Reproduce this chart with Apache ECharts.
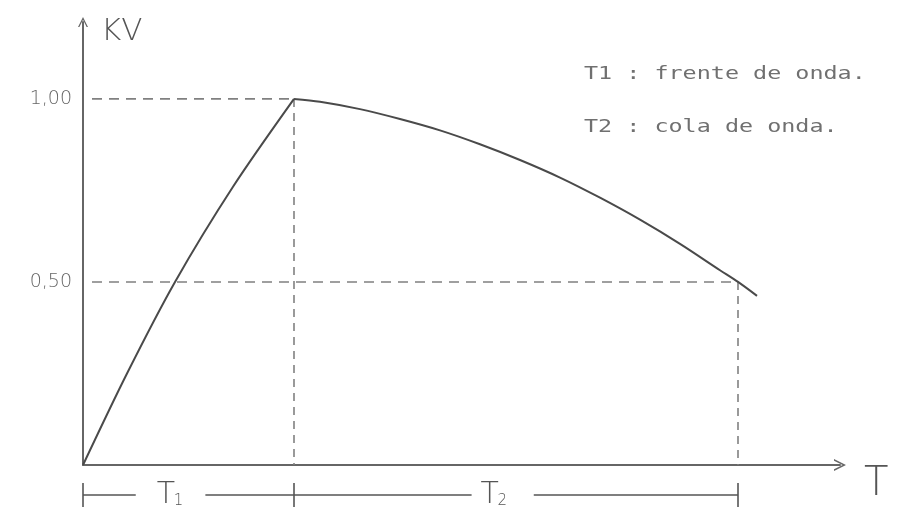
<!DOCTYPE html>
<html lang="es">
<head>
    <meta charset="UTF-8">
    <title>Onda de impulso</title>
    <script src="https://cdn.jsdelivr.net/npm/echarts@6/dist/echarts.min.js"></script>
</head>
<body style="margin:0;background:#fff;">
<div id="pic1" style="width:914px;height:513px;"></div>

<script>
    // frente de onda (subida) y cola de onda
    var riseT = [0, 0.44, 0.92, 1.50, 2.11];
    var riseV = [0, 0.25, 0.50, 0.76, 1.00];
    var tailT = [2.11, 2.37, 2.77, 3.17, 3.57, 3.97, 4.37, 4.77, 5.17, 5.57, 5.97, 6.37, 6.55, 6.74];
    var tailV = [1.00, 0.992, 0.972, 0.945, 0.914, 0.876, 0.833, 0.785, 0.730, 0.670, 0.604, 0.532, 0.50, 0.462];

    // marcas del eje y
    var yTicks = [0.5, 1.0];
    var yTickLabels = ['0,50', '1,00'];

    // fin de T1 y de T2
    var t1End = 2.11;
    var t2End = 6.55;
    var dashStart = 0.09;

    var legendLines = ['T1 : frente de onda.', 'T2 : cola de onda.'];

    function pairs(xs, ys) {
        return xs.map(function (x, i) { return [x, ys[i]]; });
    }

    var ink = '#4a4a4a';
    var dashColor = '#808080';
    var chevron = 'path://M0,10 L5,0 L10,10 L8.6,10 L5,2.8 L1.4,10 Z';

    var myCharts1 = echarts.init(document.getElementById('pic1'));

    var dashed = function (data, type) {
        return {
            type: 'line',
            data: data,
            symbol: 'none',
            silent: true,
            lineStyle: {color: dashColor, width: 1.6, type: type},
            z: 1
        };
    };

    var option1 = {
        backgroundColor: '#fff',
        animation: false,
        grid: {left: 83, right: 74, top: 22, bottom: 48},
        xAxis: {
            type: 'value',
            min: 0,
            max: 7.57,
            name: 'T',
            nameLocation: 'end',
            nameGap: 24,
            nameTextStyle: {
                fontFamily: 'DejaVu Sans',
                fontWeight: 200,
                fontSize: 40,
                color: '#555',
                align: 'left',
                verticalAlign: 'top'
            },
            axisLine: {
                show: true,
                symbol: ['none', chevron],
                symbolSize: [12, 12],
                lineStyle: {color: '#666', width: 2}
            },
            axisTick: {show: false},
            axisLabel: {show: false},
            splitLine: {show: false}
        },
        yAxis: {
            type: 'value',
            min: 0,
            max: 1.21,
            interval: 0.5,
            name: 'KV',
            nameLocation: 'end',
            nameGap: 6,
            nameTextStyle: {
                fontFamily: 'DejaVu Sans',
                fontWeight: 200,
                fontSize: 31,
                color: '#555',
                align: 'left',
                verticalAlign: 'top',
                padding: [0, 0, 0, 18]
            },
            axisLine: {
                show: true,
                symbol: ['none', chevron],
                symbolSize: [10, 12],
                lineStyle: {color: '#666', width: 2}
            },
            axisTick: {show: false},
            axisLabel: {
                margin: 11,
                fontFamily: 'DejaVu Sans',
                fontWeight: 200,
                fontSize: 19,
                color: '#666',
                formatter: function (v) {
                    for (var i = 0; i < yTicks.length; i++) {
                        if (Math.abs(v - yTicks[i]) < 1e-6) return yTickLabels[i];
                    }
                    return '';
                }
            },
            splitLine: {show: false}
        },
        series: [
            dashed([[dashStart, 1.0], [t1End, 1.0]], [10, 7]),
            dashed([[t1End, 1.0], [t1End, 0]], [8, 6]),
            dashed([[dashStart, 0.5], [t2End, 0.5]], [10, 7]),
            dashed([[t2End, 0.5], [t2End, 0]], [8, 6]),
            {
                type: 'line',
                data: pairs(riseT, riseV),
                smooth: 0.3,
                symbol: 'none',
                lineStyle: {color: ink, width: 2},
                z: 3
            },
            {
                type: 'line',
                data: pairs(tailT, tailV),
                smooth: 0.3,
                symbol: 'none',
                lineStyle: {color: ink, width: 2},
                z: 3
            }
        ]
    };
    myCharts1.setOption(option1);

    // anotaciones T1 / T2 bajo el eje, posicionadas con la escala del eje
    var x0 = myCharts1.convertToPixel({gridIndex: 0}, [0, 0])[0];
    var x1 = myCharts1.convertToPixel({gridIndex: 0}, [t1End, 0])[0];
    var x2 = myCharts1.convertToPixel({gridIndex: 0}, [t2End, 0])[0];
    var rowY = 495;
    var line = function (xa, ya, xb, yb) {
        return {type: 'line', shape: {x1: xa, y1: ya, x2: xb, y2: yb},
            style: {stroke: '#555', lineWidth: 1.6}};
    };
    var label = function (x, main, sub) {
        return [
            {type: 'text', x: x, y: rowY - 15,
                style: {text: main, font: '200 30px "DejaVu Sans"', fill: '#555'}},
            {type: 'text', x: x + 17, y: rowY - 1,
                style: {text: sub, font: '200 15px "DejaVu Sans"', fill: '#555'}}
        ];
    };
    var w1 = x1 - x0, w2 = x2 - x1;
    var elems = [
        line(x0, rowY - 12, x0, rowY + 12),
        line(x1, rowY - 12, x1, rowY + 12),
        line(x2, rowY - 12, x2, rowY + 12),
        line(x0, rowY, x0 + w1 * 0.25, rowY),
        line(x0 + w1 * 0.58, rowY, x1, rowY),
        line(x1, rowY, x1 + w2 * 0.40, rowY),
        line(x1 + w2 * 0.54, rowY, x2, rowY)
    ];
    elems = elems.concat(label(x0 + w1 * 0.35, 'T', '1'));
    elems = elems.concat(label(x1 + w2 * 0.42, 'T', '2'));

    legendLines.forEach(function (txt, i) {
        elems.push({
            type: 'text', x: 584, y: 65 + i * 53, scaleX: 1.3,
            style: {text: txt, font: '18px "DejaVu Sans Mono"', fill: '#707070'}
        });
    });

    myCharts1.setOption({graphic: {elements: elems}});
</script>
</body>
</html>
